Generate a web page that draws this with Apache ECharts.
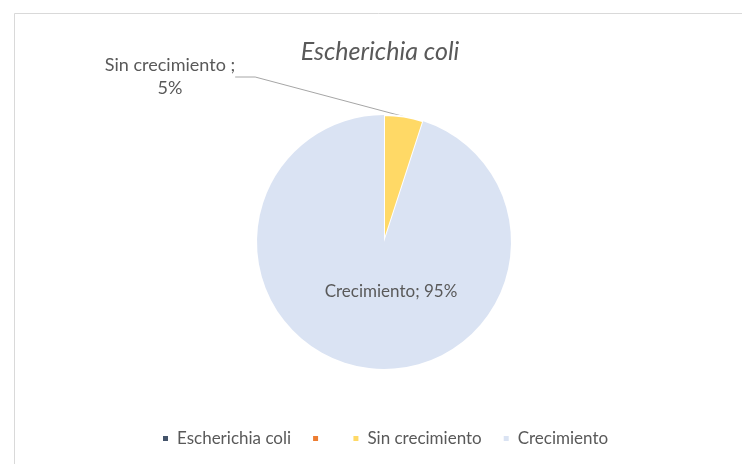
<!DOCTYPE html>
<html>
<head>
<meta charset="utf-8">
<script src="https://cdn.jsdelivr.net/npm/echarts@6/dist/echarts.min.js"></script>
<style>
html,body{margin:0;padding:0;background:#fff;}
#c{width:742px;height:464px;}
</style>
</head>
<body>
<div id="c"></div>
<script>
const categories = ['Escherichia coli', ' ', 'Sin crecimiento', 'Crecimiento'];
const values = [0, 0, 5, 95];
const colors = ['#44546A', '#ED7D31', '#FFD966', '#DAE3F3'];
const titleText = 'Escherichia coli';

const FONT = 'Lato, "Open Sans", sans-serif';
const chart = echarts.init(document.getElementById('c'), null, {renderer: 'canvas'});

const data = categories.map((name, i) => {
  const item = {name: name, value: values[i], itemStyle: {color: colors[i]}};
  if (values[i] === 0) {
    item.label = {show: false};
    item.labelLine = {show: false};
  }
  if (i === 2) {
    item.itemStyle = {color: colors[i], borderColor: '#fff', borderWidth: 2};
    item.label = {show: true, position: 'outside', formatter: '{b} ;\n{d}%', align: 'center', fontSize: 18, lineHeight: 23};
    item.labelLine = {show: true, length: 20, length2: 20, lineStyle: {color: '#A6A6A6', width: 1}};
  }
  if (i === 3) {
    item.label = {show: true, position: 'inside', formatter: '{b}; {d}%'};
    item.labelLine = {show: false};
  }
  return item;
});

chart.setOption({
  animation: false,
  backgroundColor: '#fff',
  title: {
    text: titleText,
    left: 375,
    textAlign: 'center',
    top: 34,
    textStyle: {fontFamily: FONT, fontStyle: 'italic', fontWeight: 'normal', fontSize: 25, color: '#595959'}
  },
  graphic: [{
    type: 'rect', left: 12, top: 11, z: -1,
    shape: {width: 728, height: 451},
    style: {fill: 'none', stroke: '#D9D9D9', lineWidth: 1}
  }],
  legend: {
    bottom: 12,
    left: 158,
    itemWidth: 5,
    itemHeight: 5,
    itemGap: 22,
    icon: 'rect',
    data: categories,
    itemStyle: {borderWidth: 0},
    textStyle: {fontFamily: FONT, fontSize: 17, color: '#595959', padding: [0, 0, 0, 4]},
    selectedMode: false
  },
  series: [{
    type: 'pie',
    center: [384, 242],
    radius: 127,
    startAngle: 90,
    clockwise: true,
    avoidLabelOverlap: false,
    emphasis: {scale: false},
    label: {fontFamily: FONT, fontSize: 17, color: '#595959'},
    labelLayout: function (p) {
      if (p.dataIndex === 2) return {x: 170, y: 77, align: 'center', verticalAlign: 'middle'};
      if (p.dataIndex === 3) return {x: 391, y: 292, align: 'center', verticalAlign: 'middle'};
      return {};
    },
    data: data
  }]
});
</script>
</body>
</html>
